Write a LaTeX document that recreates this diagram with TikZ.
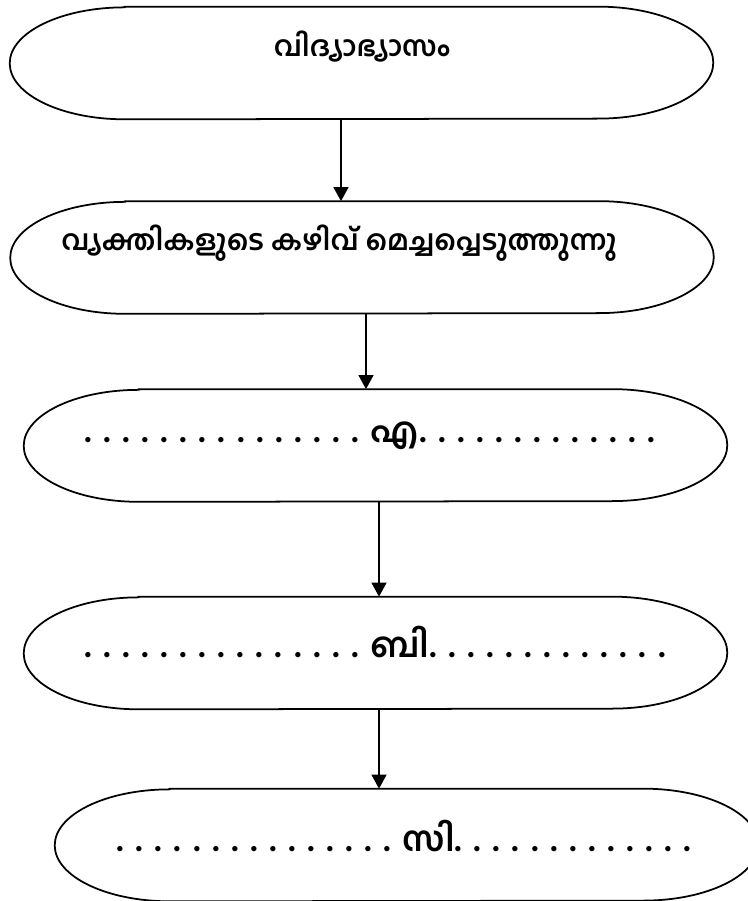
\documentclass[tikz,border=0pt]{standalone}
\usepackage{fontspec}
\newfontfamily\mlfont[Script=Malayalam]{Hind Kochi}
\usetikzlibrary{arrows.meta,calc}

\tikzset{
  box/.style={minimum width=14.06cm, minimum height=2.24cm, inner sep=0pt},
  lbl/.style={font=\mlfont\bfseries\fontsize{16}{19}\selectfont, inner sep=0pt},
  dotlbl/.style={font=\mlfont\bfseries\fontsize{19.6}{23}\selectfont, inner sep=0pt},
  flow/.style={line width=1pt, -{Triangle[width=8.5pt,length=8pt]}},
}
% rounded end box round a node
\newcommand\pillbox[1]{%
  \draw[line width=1pt] ([xshift=2.3cm]#1.north west) -- ([xshift=-2.3cm]#1.north east)
    arc[start angle=90,end angle=-90,x radius=2.3cm,y radius=1.12cm]
    -- ([xshift=2.3cm]#1.south west)
    arc[start angle=270,end angle=90,x radius=2.3cm,y radius=1.12cm] -- cycle;}

\begin{document}
\begin{tikzpicture}[x=0.02cm,y=0.02cm]
  \useasboundingbox (0,0) rectangle (747,901);
  % boxes
  \node[box] (b1) at (361.5,838) {};
  \node[box] (b2) at (362,643.5) {};
  \node[box] (b3) at (375.5,455.5) {};
  \node[box] (b4) at (375.5,248) {};
  \node[box] (b5) at (406.5,56) {};
  \foreach \b in {b1,b2,b3,b4,b5} {\pillbox{\b}}
  % texts
  \node[lbl] (t1) at (362,854) {വിദ്യാഭ്യാസം};
  \node[lbl] (t2) at (339,658) {വ്യക്തികളുടെ കഴിവ് മെച്ചപ്പെടുത്തുന്നു};
  \node[dotlbl] (t3) at (370,465) {. . . . . . . . . . . . . . . എ. . . . . . . . . . . . .};
  \node[dotlbl] (t4) at (375,259) {. . . . . . . . . . . . . . . ബി. . . . . . . . . . . . .};
  \node[dotlbl] (t5) at (404,65) {. . . . . . . . . . . . . . . സി. . . . . . . . . . . . .};
  % arrows
  \draw[flow] ($(b1.south)+(-20.5,0)$) -- ($(b2.north)+(-21,0)$);
  \draw[flow] ($(b2.south)+(4,0)$) -- ($(b3.north)+(-9.5,0)$);
  \draw[flow] ($(b3.south)+(3.5,0)$) -- ($(b4.north)+(3.5,0)$);
  \draw[flow] ($(b4.south)+(3.5,0)$) -- ($(b5.north)+(-27.5,0)$);
\end{tikzpicture}
\end{document}
